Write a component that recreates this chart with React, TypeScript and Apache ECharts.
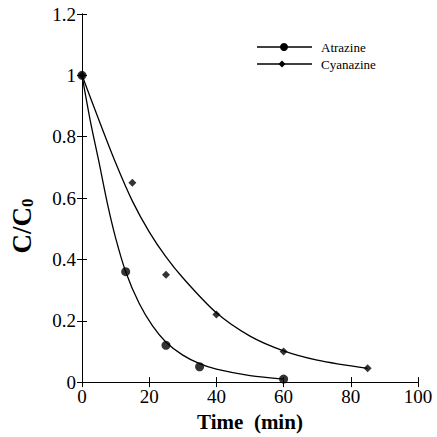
import React, { useEffect, useRef } from "react";
import * as echarts from "echarts";

const atrazineTime = [0, 13, 25, 35, 60];
const atrazineC = [1.0, 0.36, 0.12, 0.05, 0.01];
const cyanazineTime = [0, 15, 25, 40, 60, 85];
const cyanazineC = [1.0, 0.65, 0.35, 0.22, 0.1, 0.045];

const atrazineFitTime = [0, 2.5, 5, 7.5, 10, 13, 17, 21, 25, 30, 35, 40, 50, 60];
const atrazineFitC = [1, 0.85, 0.72, 0.585, 0.47, 0.36, 0.257, 0.183, 0.13, 0.088, 0.06, 0.042, 0.021, 0.01];
const cyanazineFitTime = [0, 5, 10, 15, 20, 25, 30, 40, 50, 60, 70, 85];
const cyanazineFitC = [1, 0.855, 0.715, 0.59, 0.49, 0.408, 0.34, 0.226, 0.15, 0.102, 0.072, 0.045];

const xTicks = [0, 20, 40, 60, 80, 100];
const yTicks = [0, 0.2, 0.4, 0.6, 0.8, 1, 1.2];

const legendNames = ["Atrazine", "Cyanazine"];

const FONT = "Liberation Serif";

const zip = (a: number[], b: number[]) => a.map((v, i) => [v, b[i]]);

export default function App() {
  const ref = useRef<HTMLDivElement>(null);
  useEffect(() => {
    if (!ref.current) return;
    const chart = echarts.init(ref.current, undefined, { renderer: "svg" });
    const axisCommon = {
      axisLine: { show: true, lineStyle: { color: "#000", width: 1 } },
      axisTick: { show: true, inside: true, length: 5, lineStyle: { color: "#000" } },
      splitLine: { show: false },
    };
    chart.setOption({
      animation: false,
      backgroundColor: "#fff",
      grid: { left: 81, right: 19, top: 14, bottom: 51 },
      xAxis: [
        {
          type: "value",
          min: xTicks[0],
          max: xTicks[xTicks.length - 1],
          interval: 20,
          ...axisCommon,
          axisLabel: { color: "#000", fontFamily: FONT, fontSize: 19, margin: 5 },
          name: "Time  (min)",
          nameLocation: "middle",
          nameGap: 27,
          nameTextStyle: { color: "#000", fontFamily: FONT, fontSize: 21, fontWeight: "bold" },
        },
        {
          type: "value",
          position: "top",
          min: 0,
          max: 100,
          interval: 20,
          ...axisCommon,
          axisLabel: { show: false },
        },
      ],
      yAxis: [
        {
          type: "value",
          min: yTicks[0],
          max: yTicks[yTicks.length - 1],
          interval: 0.2,
          ...axisCommon,
          axisLabel: { color: "#000", fontFamily: FONT, fontSize: 19, margin: 6 },
          name: "{a|C/C}{b|0}",
          nameLocation: "middle",
          nameGap: 46,
          nameRotate: 90,
          nameTextStyle: {
            padding: [0, 56, 0, 0],
            rich: {
              a: { fontFamily: FONT, fontSize: 27, fontWeight: "bold", color: "#000" },
              b: { fontFamily: FONT, fontSize: 17, fontWeight: "bold", color: "#000", verticalAlign: "bottom", padding: [12, 0, 0, 0] },
            },
          },
        },
        {
          type: "value",
          position: "right",
          min: 0,
          max: 1.2,
          interval: 0.2,
          ...axisCommon,
          axisLabel: { show: false },
        },
      ],
      series: [
        {
          name: "Atrazine fit",
          type: "line",
          smooth: 0.3,
          showSymbol: false,
          lineStyle: { color: "#000", width: 1.3 },
          data: zip(atrazineFitTime, atrazineFitC),
        },
        {
          name: "Cyanazine fit",
          type: "line",
          smooth: 0.3,
          showSymbol: false,
          lineStyle: { color: "#000", width: 1.3 },
          data: zip(cyanazineFitTime, cyanazineFitC),
        },
        {
          name: legendNames[0],
          type: "scatter",
          symbol: "circle",
          symbolSize: 9,
          itemStyle: { color: "#000" },
          data: zip(atrazineTime, atrazineC),
        },
        {
          name: legendNames[1],
          type: "scatter",
          symbol: "diamond",
          symbolSize: 8,
          itemStyle: { color: "#000" },
          data: zip(cyanazineTime, cyanazineC),
        },
      ],
      graphic: [
        { type: "line", shape: { x1: 257, y1: 47, x2: 312, y2: 47 }, style: { stroke: "#000", lineWidth: 1.3 } },
        { type: "circle", shape: { cx: 284, cy: 47, r: 4 }, style: { fill: "#000" } },
        { type: "text", x: 321, y: 47, style: { text: legendNames[0], fontFamily: FONT, fontSize: 13, fill: "#000", verticalAlign: "middle" } },
        { type: "line", shape: { x1: 257, y1: 64, x2: 312, y2: 64 }, style: { stroke: "#000", lineWidth: 1.3 } },
        { type: "polygon", shape: { points: [[282, 60.5], [285.5, 64], [282, 67.5], [278.5, 64]] }, style: { fill: "#000" } },
        { type: "text", x: 321, y: 64, style: { text: legendNames[1], fontFamily: FONT, fontSize: 13, fill: "#000", verticalAlign: "middle" } },
      ],
    });
    return () => chart.dispose();
  }, []);
  return <div ref={ref} style={{ position: "fixed", left: 0, top: 0, width: 437, height: 437 }} />;
}
